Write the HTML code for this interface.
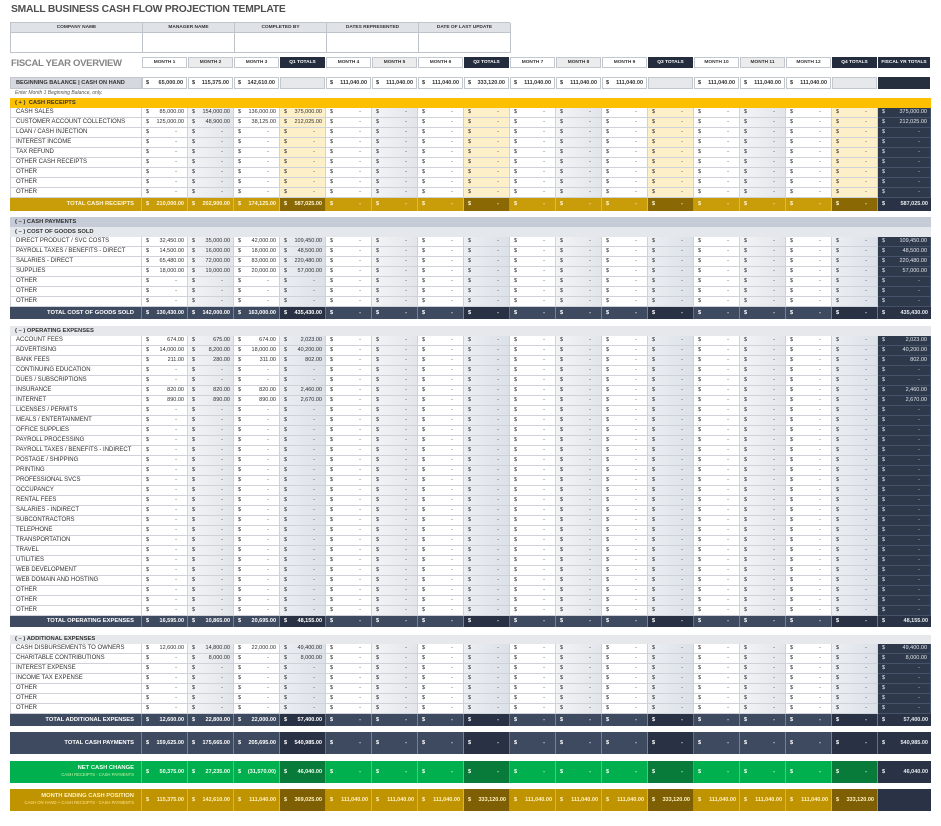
<!DOCTYPE html>
<html><head><meta charset="utf-8"><style>
*{margin:0;padding:0;box-sizing:border-box}
html,body{width:941px;height:826px;overflow:hidden;background:#fff}
body{position:relative;font-family:"Liberation Sans",Arial,sans-serif;color:#333}
.a{position:absolute}
i,b,s{font-style:normal;text-decoration:none}
.ttl{left:11px;top:4px;font-size:10.3px;font-weight:bold;color:#4e4e4e;letter-spacing:-0.2px;white-space:nowrap}
.info{left:10px;top:22px;width:500px;display:grid;grid-template-columns:132px 92px 92px 92px 92px;grid-template-rows:10px 20px;border-top:1px solid #bfc3ca;border-left:1px solid #bfc3ca}
.info>*{border-right:1px solid #bfc3ca;border-bottom:1px solid #bfc3ca;font-size:4.8px;font-weight:bold;text-align:center;line-height:9px;color:#333;background:#fff}
.info>.h{background:#dfe2e7}
.fyo{left:11px;top:58px;font-size:9.5px;font-weight:bold;color:#858585;letter-spacing:-0.3px;white-space:nowrap}
.hd{left:142px;top:57px;width:789px;display:grid;grid-template-columns:repeat(16,46px) 53px;grid-template-rows:11px}
.hd>*{font-size:4.8px;font-weight:bold;text-align:center;line-height:9px;border:1px solid #c3c7ce;margin-right:1px;background:#fff;color:#333;white-space:nowrap;overflow:hidden}
.hd>.k{background:#ececec}
.hd>.q{background:#232d3e;color:#fff;border-color:#232d3e}
.bbl{left:10px;top:77px;width:132px;height:12px;background:#d5d8de;border:1px solid #c3c7ce;font-size:5.6px;font-weight:bold;line-height:10px;padding-left:5px;color:#333;white-space:nowrap}
.bb{left:142px;top:77px;width:789px;display:grid;grid-template-columns:repeat(16,46px) 53px;grid-template-rows:12px}
.bb>*{font-size:5.5px;font-weight:bold;line-height:10px;border:1px solid #c3c7ce;margin-right:1px;padding:0 3px;background:#fff;white-space:nowrap;overflow:hidden}
.bb b{float:right}
.bb>.e{background:#e6e8ec}
.bb>.f{background:#262f3e;border-color:#262f3e}
.note{left:15px;top:90px;font-size:5px;font-style:italic;color:#555;white-space:nowrap}
.sh{left:10px;width:921px;height:10px;font-size:5.8px;font-weight:bold;line-height:10px;padding-left:5px;color:#333;white-space:nowrap}
.g{left:10px;width:921px;display:grid;grid-template-columns:132px repeat(16,46px) 53px;grid-auto-rows:10px}
.g>*{font-size:5.5px;line-height:9px;border-right:1px solid #cfd3d9;border-bottom:1px solid #cfd3d9;padding:0 3px 0 4px;white-space:nowrap;overflow:hidden;background:#fff;color:#2e2e2e}
.g b{float:right;font-weight:normal}
.g s{float:right;margin-right:7px}
.g>*:nth-child(18n+1){font-size:6px;padding-left:5px;color:#2f2f2f;border-left:1px solid #cfd3d9}
.g>*:nth-child(18n+3),.g>*:nth-child(18n+7),.g>*:nth-child(18n+11),.g>*:nth-child(18n+15){background:linear-gradient(90deg,#f3f4f6,#e2e5ea)}
.y>*:nth-child(18n+5),.y>*:nth-child(18n+9),.y>*:nth-child(18n+13),.y>*:nth-child(18n+17){background:#fdf0c8}
.o>*:nth-child(18n+5),.o>*:nth-child(18n+9),.o>*:nth-child(18n+13),.o>*:nth-child(18n+17){background:linear-gradient(90deg,#eceff3,#dce1e8)}
.g>*:nth-child(18n){background:#2e394b;color:#dfe3ea;border-color:#46526a}
.g.t>*{font-weight:bold;color:#fff;border-bottom:none;border-right:1px solid rgba(255,255,255,.3);border-left:none}
.g.t b{font-weight:bold}
.g.t>*:nth-child(1){text-align:right;padding-right:7px;font-size:5.8px}
.g.tg>*{background:#c99c0a;color:#fff6d5}
.g.tg>*:nth-child(5),.g.tg>*:nth-child(9),.g.tg>*:nth-child(13),.g.tg>*:nth-child(17){background:#8a6905}
.g.ts>*{background:#3e4a5f;color:#fff}
.g.ts>*:nth-child(5),.g.ts>*:nth-child(9),.g.ts>*:nth-child(13),.g.ts>*:nth-child(17){background:#293244}
.g.tn>*{background:#00b04f;color:#effff0}
.g.tn>*:nth-child(5),.g.tn>*:nth-child(9),.g.tn>*:nth-child(13),.g.tn>*:nth-child(17){background:#087a39}
.g.tm>*{background:#c09300;color:#fff3c0}
.g.tm>*:nth-child(5),.g.tm>*:nth-child(9),.g.tm>*:nth-child(13),.g.tm>*:nth-child(17){background:#7e5f03}
.g.t>*:nth-child(18){background:#2a3345;color:#e6e9ef;border-right:none}
.g.big>*{line-height:22px}
.g.big>*:nth-child(1){line-height:7px;padding-top:4px}
.g.big .one{line-height:22px;padding-top:0}
.g.big p{white-space:nowrap}
.g.big .sub{font-size:4.2px;font-weight:normal;line-height:6px}
.tn .sub{color:#c8f3a0}
.tm .sub{color:#ffe38a}
</style></head><body>
<div class="a ttl">SMALL BUSINESS CASH FLOW PROJECTION TEMPLATE</div>
<div class="a info"><i class="h">COMPANY NAME</i><i class="h">MANAGER NAME</i><i class="h">COMPLETED BY</i><i class="h">DATES REPRESENTED</i><i class="h">DATE OF LAST UPDATE</i><i></i><i></i><i></i><i></i><i></i></div>
<div class="a fyo">FISCAL YEAR OVERVIEW</div>
<div class="a hd"><i>MONTH 1</i><i class="k">MONTH 2</i><i>MONTH 3</i><i class="q">Q1 TOTALS</i><i>MONTH 4</i><i class="k">MONTH 5</i><i>MONTH 6</i><i class="q">Q2 TOTALS</i><i>MONTH 7</i><i class="k">MONTH 8</i><i>MONTH 9</i><i class="q">Q3 TOTALS</i><i>MONTH 10</i><i class="k">MONTH 11</i><i>MONTH 12</i><i class="q">Q4 TOTALS</i><i class="q">FISCAL YR TOTALS</i></div>
<div class="a bbl">BEGINNING BALANCE | CASH ON HAND</div>
<div class="a bb"><i>$<b>65,000.00</b></i><i>$<b>115,375.00</b></i><i>$<b>142,610.00</b></i><i class="e"></i><i>$<b>111,040.00</b></i><i>$<b>111,040.00</b></i><i>$<b>111,040.00</b></i><i>$<b>333,120.00</b></i><i>$<b>111,040.00</b></i><i>$<b>111,040.00</b></i><i>$<b>111,040.00</b></i><i class="e"></i><i>$<b>111,040.00</b></i><i>$<b>111,040.00</b></i><i>$<b>111,040.00</b></i><i class="e"></i><i class="f"></i></div>
<div class="a note">Enter Month 1 Beginning Balance, only.</div>

<div class="a sh" style="top:98px;background:#fdc000">( + )&nbsp; CASH RECEIPTS</div>
<div class="a g y" style="top:108px">
<i>CASH SALES</i><i>$<b>85,000.00</b></i><i>$<b>154,000.00</b></i><i>$<b>136,000.00</b></i><i>$<b>375,000.00</b></i><i>$<s>-</s></i><i>$<s>-</s></i><i>$<s>-</s></i><i>$<s>-</s></i><i>$<s>-</s></i><i>$<s>-</s></i><i>$<s>-</s></i><i>$<s>-</s></i><i>$<s>-</s></i><i>$<s>-</s></i><i>$<s>-</s></i><i>$<s>-</s></i><i>$<b>375,000.00</b></i>
<i>CUSTOMER ACCOUNT COLLECTIONS</i><i>$<b>125,000.00</b></i><i>$<b>48,900.00</b></i><i>$<b>38,125.00</b></i><i>$<b>212,025.00</b></i><i>$<s>-</s></i><i>$<s>-</s></i><i>$<s>-</s></i><i>$<s>-</s></i><i>$<s>-</s></i><i>$<s>-</s></i><i>$<s>-</s></i><i>$<s>-</s></i><i>$<s>-</s></i><i>$<s>-</s></i><i>$<s>-</s></i><i>$<s>-</s></i><i>$<b>212,025.00</b></i>
<i>LOAN / CASH INJECTION</i><i>$<s>-</s></i><i>$<s>-</s></i><i>$<s>-</s></i><i>$<s>-</s></i><i>$<s>-</s></i><i>$<s>-</s></i><i>$<s>-</s></i><i>$<s>-</s></i><i>$<s>-</s></i><i>$<s>-</s></i><i>$<s>-</s></i><i>$<s>-</s></i><i>$<s>-</s></i><i>$<s>-</s></i><i>$<s>-</s></i><i>$<s>-</s></i><i>$<s>-</s></i>
<i>INTEREST INCOME</i><i>$<s>-</s></i><i>$<s>-</s></i><i>$<s>-</s></i><i>$<s>-</s></i><i>$<s>-</s></i><i>$<s>-</s></i><i>$<s>-</s></i><i>$<s>-</s></i><i>$<s>-</s></i><i>$<s>-</s></i><i>$<s>-</s></i><i>$<s>-</s></i><i>$<s>-</s></i><i>$<s>-</s></i><i>$<s>-</s></i><i>$<s>-</s></i><i>$<s>-</s></i>
<i>TAX REFUND</i><i>$<s>-</s></i><i>$<s>-</s></i><i>$<s>-</s></i><i>$<s>-</s></i><i>$<s>-</s></i><i>$<s>-</s></i><i>$<s>-</s></i><i>$<s>-</s></i><i>$<s>-</s></i><i>$<s>-</s></i><i>$<s>-</s></i><i>$<s>-</s></i><i>$<s>-</s></i><i>$<s>-</s></i><i>$<s>-</s></i><i>$<s>-</s></i><i>$<s>-</s></i>
<i>OTHER CASH RECEIPTS</i><i>$<s>-</s></i><i>$<s>-</s></i><i>$<s>-</s></i><i>$<s>-</s></i><i>$<s>-</s></i><i>$<s>-</s></i><i>$<s>-</s></i><i>$<s>-</s></i><i>$<s>-</s></i><i>$<s>-</s></i><i>$<s>-</s></i><i>$<s>-</s></i><i>$<s>-</s></i><i>$<s>-</s></i><i>$<s>-</s></i><i>$<s>-</s></i><i>$<s>-</s></i>
<i>OTHER</i><i>$<s>-</s></i><i>$<s>-</s></i><i>$<s>-</s></i><i>$<s>-</s></i><i>$<s>-</s></i><i>$<s>-</s></i><i>$<s>-</s></i><i>$<s>-</s></i><i>$<s>-</s></i><i>$<s>-</s></i><i>$<s>-</s></i><i>$<s>-</s></i><i>$<s>-</s></i><i>$<s>-</s></i><i>$<s>-</s></i><i>$<s>-</s></i><i>$<s>-</s></i>
<i>OTHER</i><i>$<s>-</s></i><i>$<s>-</s></i><i>$<s>-</s></i><i>$<s>-</s></i><i>$<s>-</s></i><i>$<s>-</s></i><i>$<s>-</s></i><i>$<s>-</s></i><i>$<s>-</s></i><i>$<s>-</s></i><i>$<s>-</s></i><i>$<s>-</s></i><i>$<s>-</s></i><i>$<s>-</s></i><i>$<s>-</s></i><i>$<s>-</s></i><i>$<s>-</s></i>
<i>OTHER</i><i>$<s>-</s></i><i>$<s>-</s></i><i>$<s>-</s></i><i>$<s>-</s></i><i>$<s>-</s></i><i>$<s>-</s></i><i>$<s>-</s></i><i>$<s>-</s></i><i>$<s>-</s></i><i>$<s>-</s></i><i>$<s>-</s></i><i>$<s>-</s></i><i>$<s>-</s></i><i>$<s>-</s></i><i>$<s>-</s></i><i>$<s>-</s></i><i>$<s>-</s></i>
</div>
<div class="a g t tg" style="top:198px;grid-auto-rows:13px;line-height:13px">
<i style="line-height:13px">TOTAL CASH RECEIPTS</i><i style="line-height:13px">$<b>210,000.00</b></i><i style="line-height:13px">$<b>202,900.00</b></i><i style="line-height:13px">$<b>174,125.00</b></i><i style="line-height:13px">$<b>587,025.00</b></i><i style="line-height:13px">$<s>-</s></i><i style="line-height:13px">$<s>-</s></i><i style="line-height:13px">$<s>-</s></i><i style="line-height:13px">$<s>-</s></i><i style="line-height:13px">$<s>-</s></i><i style="line-height:13px">$<s>-</s></i><i style="line-height:13px">$<s>-</s></i><i style="line-height:13px">$<s>-</s></i><i style="line-height:13px">$<s>-</s></i><i style="line-height:13px">$<s>-</s></i><i style="line-height:13px">$<s>-</s></i><i style="line-height:13px">$<s>-</s></i><i style="line-height:13px">$<b>587,025.00</b></i>
</div>

<div class="a sh" style="top:217px;background:#c5ccd7">( – ) CASH PAYMENTS</div>
<div class="a sh" style="top:227px;background:#e4e8ed">( – ) COST OF GOODS SOLD</div>
<div class="a g o" style="top:237px">
<i>DIRECT PRODUCT / SVC COSTS</i><i>$<b>32,450.00</b></i><i>$<b>35,000.00</b></i><i>$<b>42,000.00</b></i><i>$<b>109,450.00</b></i><i>$<s>-</s></i><i>$<s>-</s></i><i>$<s>-</s></i><i>$<s>-</s></i><i>$<s>-</s></i><i>$<s>-</s></i><i>$<s>-</s></i><i>$<s>-</s></i><i>$<s>-</s></i><i>$<s>-</s></i><i>$<s>-</s></i><i>$<s>-</s></i><i>$<b>109,450.00</b></i>
<i>PAYROLL TAXES / BENEFITS - DIRECT</i><i>$<b>14,500.00</b></i><i>$<b>16,000.00</b></i><i>$<b>18,000.00</b></i><i>$<b>48,500.00</b></i><i>$<s>-</s></i><i>$<s>-</s></i><i>$<s>-</s></i><i>$<s>-</s></i><i>$<s>-</s></i><i>$<s>-</s></i><i>$<s>-</s></i><i>$<s>-</s></i><i>$<s>-</s></i><i>$<s>-</s></i><i>$<s>-</s></i><i>$<s>-</s></i><i>$<b>48,500.00</b></i>
<i>SALARIES - DIRECT</i><i>$<b>65,480.00</b></i><i>$<b>72,000.00</b></i><i>$<b>83,000.00</b></i><i>$<b>220,480.00</b></i><i>$<s>-</s></i><i>$<s>-</s></i><i>$<s>-</s></i><i>$<s>-</s></i><i>$<s>-</s></i><i>$<s>-</s></i><i>$<s>-</s></i><i>$<s>-</s></i><i>$<s>-</s></i><i>$<s>-</s></i><i>$<s>-</s></i><i>$<s>-</s></i><i>$<b>220,480.00</b></i>
<i>SUPPLIES</i><i>$<b>18,000.00</b></i><i>$<b>19,000.00</b></i><i>$<b>20,000.00</b></i><i>$<b>57,000.00</b></i><i>$<s>-</s></i><i>$<s>-</s></i><i>$<s>-</s></i><i>$<s>-</s></i><i>$<s>-</s></i><i>$<s>-</s></i><i>$<s>-</s></i><i>$<s>-</s></i><i>$<s>-</s></i><i>$<s>-</s></i><i>$<s>-</s></i><i>$<s>-</s></i><i>$<b>57,000.00</b></i>
<i>OTHER</i><i>$<s>-</s></i><i>$<s>-</s></i><i>$<s>-</s></i><i>$<s>-</s></i><i>$<s>-</s></i><i>$<s>-</s></i><i>$<s>-</s></i><i>$<s>-</s></i><i>$<s>-</s></i><i>$<s>-</s></i><i>$<s>-</s></i><i>$<s>-</s></i><i>$<s>-</s></i><i>$<s>-</s></i><i>$<s>-</s></i><i>$<s>-</s></i><i>$<s>-</s></i>
<i>OTHER</i><i>$<s>-</s></i><i>$<s>-</s></i><i>$<s>-</s></i><i>$<s>-</s></i><i>$<s>-</s></i><i>$<s>-</s></i><i>$<s>-</s></i><i>$<s>-</s></i><i>$<s>-</s></i><i>$<s>-</s></i><i>$<s>-</s></i><i>$<s>-</s></i><i>$<s>-</s></i><i>$<s>-</s></i><i>$<s>-</s></i><i>$<s>-</s></i><i>$<s>-</s></i>
<i>OTHER</i><i>$<s>-</s></i><i>$<s>-</s></i><i>$<s>-</s></i><i>$<s>-</s></i><i>$<s>-</s></i><i>$<s>-</s></i><i>$<s>-</s></i><i>$<s>-</s></i><i>$<s>-</s></i><i>$<s>-</s></i><i>$<s>-</s></i><i>$<s>-</s></i><i>$<s>-</s></i><i>$<s>-</s></i><i>$<s>-</s></i><i>$<s>-</s></i><i>$<s>-</s></i>
</div>
<div class="a g t ts" style="top:307px;grid-auto-rows:12px">
<i style="line-height:12px">TOTAL COST OF GOODS SOLD</i><i style="line-height:12px">$<b>130,430.00</b></i><i style="line-height:12px">$<b>142,000.00</b></i><i style="line-height:12px">$<b>163,000.00</b></i><i style="line-height:12px">$<b>435,430.00</b></i><i style="line-height:12px">$<s>-</s></i><i style="line-height:12px">$<s>-</s></i><i style="line-height:12px">$<s>-</s></i><i style="line-height:12px">$<s>-</s></i><i style="line-height:12px">$<s>-</s></i><i style="line-height:12px">$<s>-</s></i><i style="line-height:12px">$<s>-</s></i><i style="line-height:12px">$<s>-</s></i><i style="line-height:12px">$<s>-</s></i><i style="line-height:12px">$<s>-</s></i><i style="line-height:12px">$<s>-</s></i><i style="line-height:12px">$<s>-</s></i><i style="line-height:12px">$<b>435,430.00</b></i>
</div>

<div class="a sh" style="top:326px;background:#e6e8ec">( – ) OPERATING EXPENSES</div>
<div class="a g o" style="top:336px">
<i>ACCOUNT FEES</i><i>$<b>674.00</b></i><i>$<b>675.00</b></i><i>$<b>674.00</b></i><i>$<b>2,023.00</b></i><i>$<s>-</s></i><i>$<s>-</s></i><i>$<s>-</s></i><i>$<s>-</s></i><i>$<s>-</s></i><i>$<s>-</s></i><i>$<s>-</s></i><i>$<s>-</s></i><i>$<s>-</s></i><i>$<s>-</s></i><i>$<s>-</s></i><i>$<s>-</s></i><i>$<b>2,023.00</b></i>
<i>ADVERTISING</i><i>$<b>14,000.00</b></i><i>$<b>8,200.00</b></i><i>$<b>18,000.00</b></i><i>$<b>40,200.00</b></i><i>$<s>-</s></i><i>$<s>-</s></i><i>$<s>-</s></i><i>$<s>-</s></i><i>$<s>-</s></i><i>$<s>-</s></i><i>$<s>-</s></i><i>$<s>-</s></i><i>$<s>-</s></i><i>$<s>-</s></i><i>$<s>-</s></i><i>$<s>-</s></i><i>$<b>40,200.00</b></i>
<i>BANK FEES</i><i>$<b>211.00</b></i><i>$<b>280.00</b></i><i>$<b>311.00</b></i><i>$<b>802.00</b></i><i>$<s>-</s></i><i>$<s>-</s></i><i>$<s>-</s></i><i>$<s>-</s></i><i>$<s>-</s></i><i>$<s>-</s></i><i>$<s>-</s></i><i>$<s>-</s></i><i>$<s>-</s></i><i>$<s>-</s></i><i>$<s>-</s></i><i>$<s>-</s></i><i>$<b>802.00</b></i>
<i>CONTINUING EDUCATION</i><i>$<s>-</s></i><i>$<s>-</s></i><i>$<s>-</s></i><i>$<s>-</s></i><i>$<s>-</s></i><i>$<s>-</s></i><i>$<s>-</s></i><i>$<s>-</s></i><i>$<s>-</s></i><i>$<s>-</s></i><i>$<s>-</s></i><i>$<s>-</s></i><i>$<s>-</s></i><i>$<s>-</s></i><i>$<s>-</s></i><i>$<s>-</s></i><i>$<s>-</s></i>
<i>DUES / SUBSCRIPTIONS</i><i>$<s>-</s></i><i>$<s>-</s></i><i>$<s>-</s></i><i>$<s>-</s></i><i>$<s>-</s></i><i>$<s>-</s></i><i>$<s>-</s></i><i>$<s>-</s></i><i>$<s>-</s></i><i>$<s>-</s></i><i>$<s>-</s></i><i>$<s>-</s></i><i>$<s>-</s></i><i>$<s>-</s></i><i>$<s>-</s></i><i>$<s>-</s></i><i>$<s>-</s></i>
<i>INSURANCE</i><i>$<b>820.00</b></i><i>$<b>820.00</b></i><i>$<b>820.00</b></i><i>$<b>2,460.00</b></i><i>$<s>-</s></i><i>$<s>-</s></i><i>$<s>-</s></i><i>$<s>-</s></i><i>$<s>-</s></i><i>$<s>-</s></i><i>$<s>-</s></i><i>$<s>-</s></i><i>$<s>-</s></i><i>$<s>-</s></i><i>$<s>-</s></i><i>$<s>-</s></i><i>$<b>2,460.00</b></i>
<i>INTERNET</i><i>$<b>890.00</b></i><i>$<b>890.00</b></i><i>$<b>890.00</b></i><i>$<b>2,670.00</b></i><i>$<s>-</s></i><i>$<s>-</s></i><i>$<s>-</s></i><i>$<s>-</s></i><i>$<s>-</s></i><i>$<s>-</s></i><i>$<s>-</s></i><i>$<s>-</s></i><i>$<s>-</s></i><i>$<s>-</s></i><i>$<s>-</s></i><i>$<s>-</s></i><i>$<b>2,670.00</b></i>
<i>LICENSES / PERMITS</i><i>$<s>-</s></i><i>$<s>-</s></i><i>$<s>-</s></i><i>$<s>-</s></i><i>$<s>-</s></i><i>$<s>-</s></i><i>$<s>-</s></i><i>$<s>-</s></i><i>$<s>-</s></i><i>$<s>-</s></i><i>$<s>-</s></i><i>$<s>-</s></i><i>$<s>-</s></i><i>$<s>-</s></i><i>$<s>-</s></i><i>$<s>-</s></i><i>$<s>-</s></i>
<i>MEALS / ENTERTAINMENT</i><i>$<s>-</s></i><i>$<s>-</s></i><i>$<s>-</s></i><i>$<s>-</s></i><i>$<s>-</s></i><i>$<s>-</s></i><i>$<s>-</s></i><i>$<s>-</s></i><i>$<s>-</s></i><i>$<s>-</s></i><i>$<s>-</s></i><i>$<s>-</s></i><i>$<s>-</s></i><i>$<s>-</s></i><i>$<s>-</s></i><i>$<s>-</s></i><i>$<s>-</s></i>
<i>OFFICE SUPPLIES</i><i>$<s>-</s></i><i>$<s>-</s></i><i>$<s>-</s></i><i>$<s>-</s></i><i>$<s>-</s></i><i>$<s>-</s></i><i>$<s>-</s></i><i>$<s>-</s></i><i>$<s>-</s></i><i>$<s>-</s></i><i>$<s>-</s></i><i>$<s>-</s></i><i>$<s>-</s></i><i>$<s>-</s></i><i>$<s>-</s></i><i>$<s>-</s></i><i>$<s>-</s></i>
<i>PAYROLL PROCESSING</i><i>$<s>-</s></i><i>$<s>-</s></i><i>$<s>-</s></i><i>$<s>-</s></i><i>$<s>-</s></i><i>$<s>-</s></i><i>$<s>-</s></i><i>$<s>-</s></i><i>$<s>-</s></i><i>$<s>-</s></i><i>$<s>-</s></i><i>$<s>-</s></i><i>$<s>-</s></i><i>$<s>-</s></i><i>$<s>-</s></i><i>$<s>-</s></i><i>$<s>-</s></i>
<i>PAYROLL TAXES / BENEFITS - INDIRECT</i><i>$<s>-</s></i><i>$<s>-</s></i><i>$<s>-</s></i><i>$<s>-</s></i><i>$<s>-</s></i><i>$<s>-</s></i><i>$<s>-</s></i><i>$<s>-</s></i><i>$<s>-</s></i><i>$<s>-</s></i><i>$<s>-</s></i><i>$<s>-</s></i><i>$<s>-</s></i><i>$<s>-</s></i><i>$<s>-</s></i><i>$<s>-</s></i><i>$<s>-</s></i>
<i>POSTAGE / SHIPPING</i><i>$<s>-</s></i><i>$<s>-</s></i><i>$<s>-</s></i><i>$<s>-</s></i><i>$<s>-</s></i><i>$<s>-</s></i><i>$<s>-</s></i><i>$<s>-</s></i><i>$<s>-</s></i><i>$<s>-</s></i><i>$<s>-</s></i><i>$<s>-</s></i><i>$<s>-</s></i><i>$<s>-</s></i><i>$<s>-</s></i><i>$<s>-</s></i><i>$<s>-</s></i>
<i>PRINTING</i><i>$<s>-</s></i><i>$<s>-</s></i><i>$<s>-</s></i><i>$<s>-</s></i><i>$<s>-</s></i><i>$<s>-</s></i><i>$<s>-</s></i><i>$<s>-</s></i><i>$<s>-</s></i><i>$<s>-</s></i><i>$<s>-</s></i><i>$<s>-</s></i><i>$<s>-</s></i><i>$<s>-</s></i><i>$<s>-</s></i><i>$<s>-</s></i><i>$<s>-</s></i>
<i>PROFESSIONAL SVCS</i><i>$<s>-</s></i><i>$<s>-</s></i><i>$<s>-</s></i><i>$<s>-</s></i><i>$<s>-</s></i><i>$<s>-</s></i><i>$<s>-</s></i><i>$<s>-</s></i><i>$<s>-</s></i><i>$<s>-</s></i><i>$<s>-</s></i><i>$<s>-</s></i><i>$<s>-</s></i><i>$<s>-</s></i><i>$<s>-</s></i><i>$<s>-</s></i><i>$<s>-</s></i>
<i>OCCUPANCY</i><i>$<s>-</s></i><i>$<s>-</s></i><i>$<s>-</s></i><i>$<s>-</s></i><i>$<s>-</s></i><i>$<s>-</s></i><i>$<s>-</s></i><i>$<s>-</s></i><i>$<s>-</s></i><i>$<s>-</s></i><i>$<s>-</s></i><i>$<s>-</s></i><i>$<s>-</s></i><i>$<s>-</s></i><i>$<s>-</s></i><i>$<s>-</s></i><i>$<s>-</s></i>
<i>RENTAL FEES</i><i>$<s>-</s></i><i>$<s>-</s></i><i>$<s>-</s></i><i>$<s>-</s></i><i>$<s>-</s></i><i>$<s>-</s></i><i>$<s>-</s></i><i>$<s>-</s></i><i>$<s>-</s></i><i>$<s>-</s></i><i>$<s>-</s></i><i>$<s>-</s></i><i>$<s>-</s></i><i>$<s>-</s></i><i>$<s>-</s></i><i>$<s>-</s></i><i>$<s>-</s></i>
<i>SALARIES - INDIRECT</i><i>$<s>-</s></i><i>$<s>-</s></i><i>$<s>-</s></i><i>$<s>-</s></i><i>$<s>-</s></i><i>$<s>-</s></i><i>$<s>-</s></i><i>$<s>-</s></i><i>$<s>-</s></i><i>$<s>-</s></i><i>$<s>-</s></i><i>$<s>-</s></i><i>$<s>-</s></i><i>$<s>-</s></i><i>$<s>-</s></i><i>$<s>-</s></i><i>$<s>-</s></i>
<i>SUBCONTRACTORS</i><i>$<s>-</s></i><i>$<s>-</s></i><i>$<s>-</s></i><i>$<s>-</s></i><i>$<s>-</s></i><i>$<s>-</s></i><i>$<s>-</s></i><i>$<s>-</s></i><i>$<s>-</s></i><i>$<s>-</s></i><i>$<s>-</s></i><i>$<s>-</s></i><i>$<s>-</s></i><i>$<s>-</s></i><i>$<s>-</s></i><i>$<s>-</s></i><i>$<s>-</s></i>
<i>TELEPHONE</i><i>$<s>-</s></i><i>$<s>-</s></i><i>$<s>-</s></i><i>$<s>-</s></i><i>$<s>-</s></i><i>$<s>-</s></i><i>$<s>-</s></i><i>$<s>-</s></i><i>$<s>-</s></i><i>$<s>-</s></i><i>$<s>-</s></i><i>$<s>-</s></i><i>$<s>-</s></i><i>$<s>-</s></i><i>$<s>-</s></i><i>$<s>-</s></i><i>$<s>-</s></i>
<i>TRANSPORTATION</i><i>$<s>-</s></i><i>$<s>-</s></i><i>$<s>-</s></i><i>$<s>-</s></i><i>$<s>-</s></i><i>$<s>-</s></i><i>$<s>-</s></i><i>$<s>-</s></i><i>$<s>-</s></i><i>$<s>-</s></i><i>$<s>-</s></i><i>$<s>-</s></i><i>$<s>-</s></i><i>$<s>-</s></i><i>$<s>-</s></i><i>$<s>-</s></i><i>$<s>-</s></i>
<i>TRAVEL</i><i>$<s>-</s></i><i>$<s>-</s></i><i>$<s>-</s></i><i>$<s>-</s></i><i>$<s>-</s></i><i>$<s>-</s></i><i>$<s>-</s></i><i>$<s>-</s></i><i>$<s>-</s></i><i>$<s>-</s></i><i>$<s>-</s></i><i>$<s>-</s></i><i>$<s>-</s></i><i>$<s>-</s></i><i>$<s>-</s></i><i>$<s>-</s></i><i>$<s>-</s></i>
<i>UTILITIES</i><i>$<s>-</s></i><i>$<s>-</s></i><i>$<s>-</s></i><i>$<s>-</s></i><i>$<s>-</s></i><i>$<s>-</s></i><i>$<s>-</s></i><i>$<s>-</s></i><i>$<s>-</s></i><i>$<s>-</s></i><i>$<s>-</s></i><i>$<s>-</s></i><i>$<s>-</s></i><i>$<s>-</s></i><i>$<s>-</s></i><i>$<s>-</s></i><i>$<s>-</s></i>
<i>WEB DEVELOPMENT</i><i>$<s>-</s></i><i>$<s>-</s></i><i>$<s>-</s></i><i>$<s>-</s></i><i>$<s>-</s></i><i>$<s>-</s></i><i>$<s>-</s></i><i>$<s>-</s></i><i>$<s>-</s></i><i>$<s>-</s></i><i>$<s>-</s></i><i>$<s>-</s></i><i>$<s>-</s></i><i>$<s>-</s></i><i>$<s>-</s></i><i>$<s>-</s></i><i>$<s>-</s></i>
<i>WEB DOMAIN AND HOSTING</i><i>$<s>-</s></i><i>$<s>-</s></i><i>$<s>-</s></i><i>$<s>-</s></i><i>$<s>-</s></i><i>$<s>-</s></i><i>$<s>-</s></i><i>$<s>-</s></i><i>$<s>-</s></i><i>$<s>-</s></i><i>$<s>-</s></i><i>$<s>-</s></i><i>$<s>-</s></i><i>$<s>-</s></i><i>$<s>-</s></i><i>$<s>-</s></i><i>$<s>-</s></i>
<i>OTHER</i><i>$<s>-</s></i><i>$<s>-</s></i><i>$<s>-</s></i><i>$<s>-</s></i><i>$<s>-</s></i><i>$<s>-</s></i><i>$<s>-</s></i><i>$<s>-</s></i><i>$<s>-</s></i><i>$<s>-</s></i><i>$<s>-</s></i><i>$<s>-</s></i><i>$<s>-</s></i><i>$<s>-</s></i><i>$<s>-</s></i><i>$<s>-</s></i><i>$<s>-</s></i>
<i>OTHER</i><i>$<s>-</s></i><i>$<s>-</s></i><i>$<s>-</s></i><i>$<s>-</s></i><i>$<s>-</s></i><i>$<s>-</s></i><i>$<s>-</s></i><i>$<s>-</s></i><i>$<s>-</s></i><i>$<s>-</s></i><i>$<s>-</s></i><i>$<s>-</s></i><i>$<s>-</s></i><i>$<s>-</s></i><i>$<s>-</s></i><i>$<s>-</s></i><i>$<s>-</s></i>
<i>OTHER</i><i>$<s>-</s></i><i>$<s>-</s></i><i>$<s>-</s></i><i>$<s>-</s></i><i>$<s>-</s></i><i>$<s>-</s></i><i>$<s>-</s></i><i>$<s>-</s></i><i>$<s>-</s></i><i>$<s>-</s></i><i>$<s>-</s></i><i>$<s>-</s></i><i>$<s>-</s></i><i>$<s>-</s></i><i>$<s>-</s></i><i>$<s>-</s></i><i>$<s>-</s></i>
</div>
<div class="a g t ts" style="top:616px;grid-auto-rows:11px">
<i style="line-height:11px">TOTAL OPERATING EXPENSES</i><i style="line-height:11px">$<b>16,595.00</b></i><i style="line-height:11px">$<b>10,865.00</b></i><i style="line-height:11px">$<b>20,695.00</b></i><i style="line-height:11px">$<b>48,155.00</b></i><i style="line-height:11px">$<s>-</s></i><i style="line-height:11px">$<s>-</s></i><i style="line-height:11px">$<s>-</s></i><i style="line-height:11px">$<s>-</s></i><i style="line-height:11px">$<s>-</s></i><i style="line-height:11px">$<s>-</s></i><i style="line-height:11px">$<s>-</s></i><i style="line-height:11px">$<s>-</s></i><i style="line-height:11px">$<s>-</s></i><i style="line-height:11px">$<s>-</s></i><i style="line-height:11px">$<s>-</s></i><i style="line-height:11px">$<s>-</s></i><i style="line-height:11px">$<b>48,155.00</b></i>
</div>

<div class="a sh" style="top:635px;height:9px;line-height:9px;background:#e6e8ec">( – ) ADDITIONAL EXPENSES</div>
<div class="a g o" style="top:644px">
<i>CASH DISBURSEMENTS TO OWNERS</i><i>$<b>12,600.00</b></i><i>$<b>14,800.00</b></i><i>$<b>22,000.00</b></i><i>$<b>49,400.00</b></i><i>$<s>-</s></i><i>$<s>-</s></i><i>$<s>-</s></i><i>$<s>-</s></i><i>$<s>-</s></i><i>$<s>-</s></i><i>$<s>-</s></i><i>$<s>-</s></i><i>$<s>-</s></i><i>$<s>-</s></i><i>$<s>-</s></i><i>$<s>-</s></i><i>$<b>49,400.00</b></i>
<i>CHARITABLE CONTRIBUTIONS</i><i>$<s>-</s></i><i>$<b>8,000.00</b></i><i>$<s>-</s></i><i>$<b>8,000.00</b></i><i>$<s>-</s></i><i>$<s>-</s></i><i>$<s>-</s></i><i>$<s>-</s></i><i>$<s>-</s></i><i>$<s>-</s></i><i>$<s>-</s></i><i>$<s>-</s></i><i>$<s>-</s></i><i>$<s>-</s></i><i>$<s>-</s></i><i>$<s>-</s></i><i>$<b>8,000.00</b></i>
<i>INTEREST EXPENSE</i><i>$<s>-</s></i><i>$<s>-</s></i><i>$<s>-</s></i><i>$<s>-</s></i><i>$<s>-</s></i><i>$<s>-</s></i><i>$<s>-</s></i><i>$<s>-</s></i><i>$<s>-</s></i><i>$<s>-</s></i><i>$<s>-</s></i><i>$<s>-</s></i><i>$<s>-</s></i><i>$<s>-</s></i><i>$<s>-</s></i><i>$<s>-</s></i><i>$<s>-</s></i>
<i>INCOME TAX EXPENSE</i><i>$<s>-</s></i><i>$<s>-</s></i><i>$<s>-</s></i><i>$<s>-</s></i><i>$<s>-</s></i><i>$<s>-</s></i><i>$<s>-</s></i><i>$<s>-</s></i><i>$<s>-</s></i><i>$<s>-</s></i><i>$<s>-</s></i><i>$<s>-</s></i><i>$<s>-</s></i><i>$<s>-</s></i><i>$<s>-</s></i><i>$<s>-</s></i><i>$<s>-</s></i>
<i>OTHER</i><i>$<s>-</s></i><i>$<s>-</s></i><i>$<s>-</s></i><i>$<s>-</s></i><i>$<s>-</s></i><i>$<s>-</s></i><i>$<s>-</s></i><i>$<s>-</s></i><i>$<s>-</s></i><i>$<s>-</s></i><i>$<s>-</s></i><i>$<s>-</s></i><i>$<s>-</s></i><i>$<s>-</s></i><i>$<s>-</s></i><i>$<s>-</s></i><i>$<s>-</s></i>
<i>OTHER</i><i>$<s>-</s></i><i>$<s>-</s></i><i>$<s>-</s></i><i>$<s>-</s></i><i>$<s>-</s></i><i>$<s>-</s></i><i>$<s>-</s></i><i>$<s>-</s></i><i>$<s>-</s></i><i>$<s>-</s></i><i>$<s>-</s></i><i>$<s>-</s></i><i>$<s>-</s></i><i>$<s>-</s></i><i>$<s>-</s></i><i>$<s>-</s></i><i>$<s>-</s></i>
<i>OTHER</i><i>$<s>-</s></i><i>$<s>-</s></i><i>$<s>-</s></i><i>$<s>-</s></i><i>$<s>-</s></i><i>$<s>-</s></i><i>$<s>-</s></i><i>$<s>-</s></i><i>$<s>-</s></i><i>$<s>-</s></i><i>$<s>-</s></i><i>$<s>-</s></i><i>$<s>-</s></i><i>$<s>-</s></i><i>$<s>-</s></i><i>$<s>-</s></i><i>$<s>-</s></i>
</div>
<div class="a g t ts" style="top:714px;grid-auto-rows:12px">
<i style="line-height:12px">TOTAL ADDITIONAL EXPENSES</i><i style="line-height:12px">$<b>12,600.00</b></i><i style="line-height:12px">$<b>22,800.00</b></i><i style="line-height:12px">$<b>22,000.00</b></i><i style="line-height:12px">$<b>57,400.00</b></i><i style="line-height:12px">$<s>-</s></i><i style="line-height:12px">$<s>-</s></i><i style="line-height:12px">$<s>-</s></i><i style="line-height:12px">$<s>-</s></i><i style="line-height:12px">$<s>-</s></i><i style="line-height:12px">$<s>-</s></i><i style="line-height:12px">$<s>-</s></i><i style="line-height:12px">$<s>-</s></i><i style="line-height:12px">$<s>-</s></i><i style="line-height:12px">$<s>-</s></i><i style="line-height:12px">$<s>-</s></i><i style="line-height:12px">$<s>-</s></i><i style="line-height:12px">$<b>57,400.00</b></i>
</div>

<div class="a g t ts big" style="top:732px;grid-auto-rows:22px">
<i class="one">TOTAL CASH PAYMENTS</i><i>$<b>159,625.00</b></i><i>$<b>175,665.00</b></i><i>$<b>205,695.00</b></i><i>$<b>540,985.00</b></i><i>$<s>-</s></i><i>$<s>-</s></i><i>$<s>-</s></i><i>$<s>-</s></i><i>$<s>-</s></i><i>$<s>-</s></i><i>$<s>-</s></i><i>$<s>-</s></i><i>$<s>-</s></i><i>$<s>-</s></i><i>$<s>-</s></i><i>$<s>-</s></i><i>$<b>540,985.00</b></i>
</div>
<div class="a g t tn big" style="top:761px;grid-auto-rows:22px">
<i><p>NET CASH CHANGE</p><p class="sub">CASH RECEIPTS - CASH PAYMENTS</p></i><i>$<b>50,375.00</b></i><i>$<b>27,235.00</b></i><i>$<b>(31,570.00)</b></i><i>$<b>46,040.00</b></i><i>$<s>-</s></i><i>$<s>-</s></i><i>$<s>-</s></i><i>$<s>-</s></i><i>$<s>-</s></i><i>$<s>-</s></i><i>$<s>-</s></i><i>$<s>-</s></i><i>$<s>-</s></i><i>$<s>-</s></i><i>$<s>-</s></i><i>$<s>-</s></i><i>$<b>46,040.00</b></i>
</div>
<div class="a g t tm big" style="top:789px;grid-auto-rows:22px">
<i><p>MONTH ENDING CASH POSITION</p><p class="sub">CASH ON HAND + CASH RECEIPTS - CASH PAYMENTS</p></i><i>$<b>115,375.00</b></i><i>$<b>142,610.00</b></i><i>$<b>111,040.00</b></i><i>$<b>369,025.00</b></i><i>$<b>111,040.00</b></i><i>$<b>111,040.00</b></i><i>$<b>111,040.00</b></i><i>$<b>333,120.00</b></i><i>$<b>111,040.00</b></i><i>$<b>111,040.00</b></i><i>$<b>111,040.00</b></i><i>$<b>333,120.00</b></i><i>$<b>111,040.00</b></i><i>$<b>111,040.00</b></i><i>$<b>111,040.00</b></i><i>$<b>333,120.00</b></i><i></i>
</div>
</body></html>
